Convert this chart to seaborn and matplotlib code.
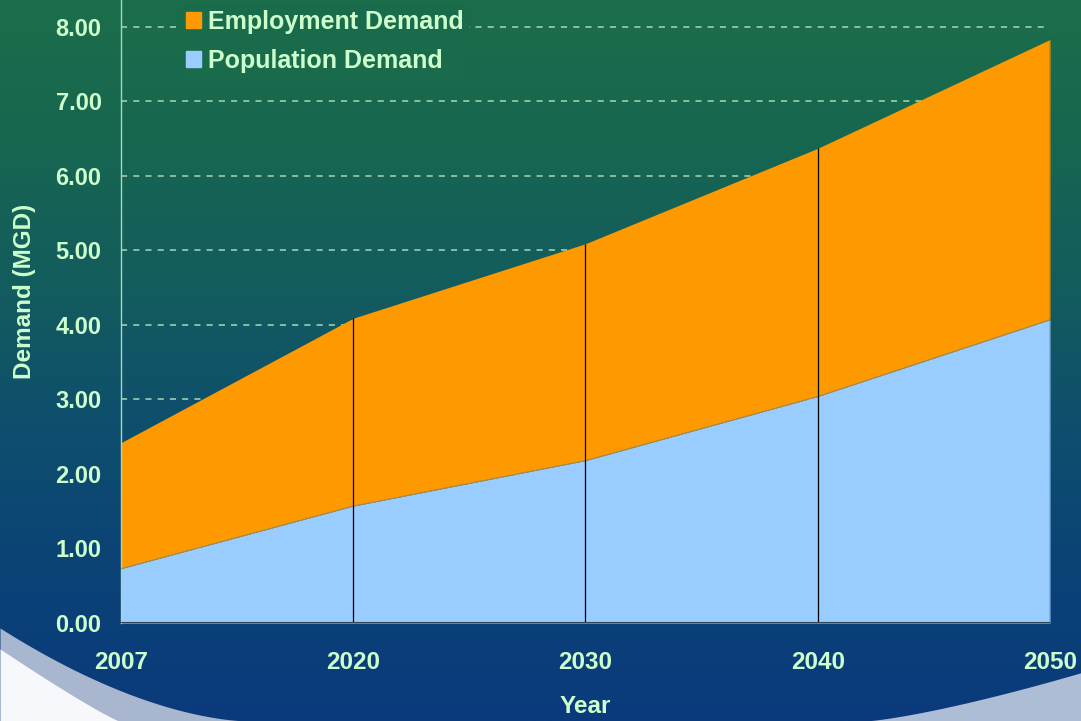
import numpy as np
import matplotlib
matplotlib.use("Agg")
import matplotlib.pyplot as plt
import matplotlib.patches as mpatches
from matplotlib.colors import LinearSegmentedColormap
import seaborn as sns

# --- DATI ---
years = ["2007", "2020", "2030", "2040", "2050"]
population_demand = [0.73, 1.57, 2.18, 3.04, 4.07]
employment_demand = [1.69, 2.52, 2.91, 3.33, 3.76]
y_ticks = [0, 1, 2, 3, 4, 5, 6, 7, 8]

TEXT_COLOR = "#ccffcc"
ORANGE = "#ff9900"
LIGHT_BLUE = "#99ccff"

sns.set_style("white")
plt.rcParams['font.family'] = ['Liberation Sans', 'DejaVu Sans']

fig = plt.figure(figsize=(10.81, 7.21), dpi=100)

# --- SFONDO (gradiente verde -> blu) ---
bg = fig.add_axes([0, 0, 1, 1], zorder=-10)
grad = np.linspace(0, 1, 256).reshape(-1, 1)
cmap = LinearSegmentedColormap.from_list(
    "bg", ["#1b6e4a", "#176651", "#135c5e", "#0e4e6e", "#0b4276", "#0a3a7c"])
bg.imshow(grad, aspect="auto", cmap=cmap, extent=[0, 1, 0, 1], origin="upper")

# bordo curvo chiaro in basso a sinistra
t = np.linspace(0, 0.231, 200)
bg.fill_between(t, 0, 0.129 * (1 - t / 0.231) ** 1.7, color="#a9b6cf", zorder=2, linewidth=0)
t = np.linspace(0, 0.11, 200)
bg.fill_between(t, 0, 0.10 * (1 - t / 0.11) ** 1.1, color="#f6f8fb", zorder=3, linewidth=0)
# bordo curvo in basso a destra
t = np.linspace(0.80, 1.0, 200)
bg.fill_between(t, 0, 0.067 * ((t - 0.80) / 0.20) ** 1.3, color="#aebdd6", zorder=2, linewidth=0)
bg.set_xlim(0, 1)
bg.set_ylim(0, 1)
bg.axis("off")

# --- GRAFICO ---
ax = fig.add_axes([0.1119, 0.1359, 0.8594, 0.8641])
ax.patch.set_alpha(0)
x = np.arange(len(years))
total = np.array(population_demand) + np.array(employment_demand)

for yv in y_ticks[1:]:
    ax.axhline(yv, color="#a8d8b8", linestyle=(0, (4, 4)), linewidth=1.1, zorder=1)

ax.stackplot(x, population_demand, employment_demand,
             colors=[LIGHT_BLUE, ORANGE], labels=["Population Demand", "Employment Demand"],
             zorder=2, linewidth=0)
sns.lineplot(x=x, y=population_demand, ax=ax, color="#8a8a6a", linewidth=0.6, zorder=3)
ax.vlines(x[1:], 0, total[1:], color="black", linewidth=0.9, zorder=4)
ax.axhline(0, color="#334455", linewidth=1.5, zorder=4)

ax.set_xlim(0, len(years) - 1)
ax.set_ylim(0, 8.36)
ax.set_xticks(x)
ax.set_xticklabels(years)
ax.set_yticks(y_ticks)
ax.set_yticklabels([f"{v:.2f}" for v in y_ticks])
ax.tick_params(axis="y", colors="#a8d8b8", labelcolor=TEXT_COLOR, labelsize=17,
               length=6, width=1, pad=8)
ax.tick_params(axis="x", colors="#223344", labelcolor=TEXT_COLOR, labelsize=17.5,
               length=6, width=1, pad=14)
for lab in ax.get_xticklabels() + ax.get_yticklabels():
    lab.set_fontweight("bold")
for side in ["top", "right", "bottom"]:
    ax.spines[side].set_visible(False)
ax.spines["left"].set_color("#a8d8b8")
ax.spines["left"].set_linewidth(1)

ax.set_xlabel("Year", color=TEXT_COLOR, fontsize=17.5, fontweight="bold", labelpad=15)
ax.set_ylabel("Demand (MGD)", color=TEXT_COLOR, fontsize=17.5, fontweight="bold")
ax.yaxis.set_label_coords(-0.0915, 0.533)

handles = [mpatches.Patch(color=ORANGE, label="Employment Demand"),
           mpatches.Patch(color=LIGHT_BLUE, label="Population Demand")]
leg = ax.legend(handles=handles, loc="upper left", bbox_to_anchor=(0.0646, 0.992),
                frameon=True, facecolor="#1a6b4c", edgecolor="none", framealpha=1,
                fontsize=18, handlelength=0.6, handleheight=0.6, handletextpad=0.28,
                labelspacing=0.6, borderpad=0.2, borderaxespad=0)
for txt in leg.get_texts():
    txt.set_color(TEXT_COLOR)
    txt.set_fontweight("bold")

fig.savefig("out.png", dpi=100)
